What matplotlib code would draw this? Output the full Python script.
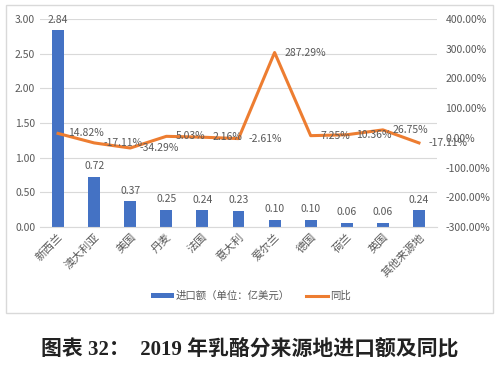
import matplotlib
matplotlib.use("Agg")
import matplotlib.pyplot as plt
from matplotlib.patches import Rectangle

plt.rcParams['font.family'] = ['Noto Sans CJK SC', 'DejaVu Sans']

categories = ['新西兰', '澳大利亚', '美国', '丹麦', '法国', '意大利', '爱尔兰', '德国', '荷兰', '英国', '其他来源地']
imports = [2.84, 0.72, 0.37, 0.25, 0.24, 0.23, 0.10, 0.10, 0.06, 0.06, 0.24]
yoy = [14.82, -17.11, -34.29, 5.03, 2.16, -2.61, 287.29, 7.25, 10.36, 26.75, -17.11]
left_ticks = [0.0, 0.5, 1.0, 1.5, 2.0, 2.5, 3.0]
right_ticks = [-300, -200, -100, 0, 100, 200, 300, 400]

BAR = '#4472C4'
LINE = '#ED7D31'
TXT = '#595959'

fig = plt.figure(figsize=(5, 3.66), dpi=100)
fig.patches.append(Rectangle((6/500, 1-313/366), 487/500, 308/366, transform=fig.transFigure,
                             fill=False, edgecolor='#D9D9D9', linewidth=1))
ax = fig.add_axes([0.08, 0.38, 0.794, 0.568])
x = list(range(len(categories)))
ax.bar(x, imports, width=0.33, color=BAR, label='进口额（单位：亿美元）', zorder=2)
ax.set_xlim(-0.5, len(categories) - 0.5)
ax.set_ylim(0, 3)
ax.set_yticks(left_ticks)
ax.set_yticklabels([f'{v:.2f}' for v in left_ticks], color=TXT, fontsize=7.5)
ax.yaxis.grid(True, color='#D9D9D9', linewidth=0.8, zorder=0)
ax.set_axisbelow(True)
for s in ax.spines.values():
    s.set_visible(False)
ax.spines['bottom'].set_visible(True)
ax.spines['bottom'].set_color('#D9D9D9')
ax.tick_params(length=0)
ax.set_xticks(x)
ax.set_xticklabels(categories, rotation=45, ha='right', rotation_mode='anchor', color=TXT, fontsize=8)
for xi, v in zip(x, imports):
    ax.annotate(f'{v:.2f}', (xi, v), xytext=(0, 4), textcoords='offset points',
                ha='center', va='bottom', color=TXT, fontsize=7.5)

ax2 = ax.twinx()
ax2.plot(x, yoy, color=LINE, linewidth=2.2, label='同比', zorder=3)
ax2.set_ylim(-300, 400)
ax2.set_yticks(right_ticks)
ax2.set_yticklabels([f'{v:.2f}%' for v in right_ticks], color=TXT, fontsize=7.5)
for s in ax2.spines.values():
    s.set_visible(False)
ax2.tick_params(length=0, pad=6)
for xi, v in zip(x, yoy):
    ax2.annotate(f'{v:.2f}%', (xi, v), xytext=(7, 0), textcoords='offset points',
                 ha='left', va='center', color=TXT, fontsize=7.5)

h1, l1 = ax.get_legend_handles_labels()
h2, l2 = ax2.get_legend_handles_labels()
fig.legend(h1 + h2, l1 + l2, loc='center', bbox_to_anchor=(0.502, 1-296/366), ncol=2,
           frameon=False, fontsize=7.5, labelcolor=TXT, handlelength=2.2, handleheight=0.4,
           handletextpad=0.2, columnspacing=1.5)

fig.text(0.5, 1-350/366, '图表 32：  2019 年乳酪分来源地进口额及同比',
         ha='center', va='center', fontsize=15, fontweight='bold',
         family=['Liberation Serif', 'Noto Sans CJK SC'], color='#222222')

fig.savefig('out.png', dpi=100)
